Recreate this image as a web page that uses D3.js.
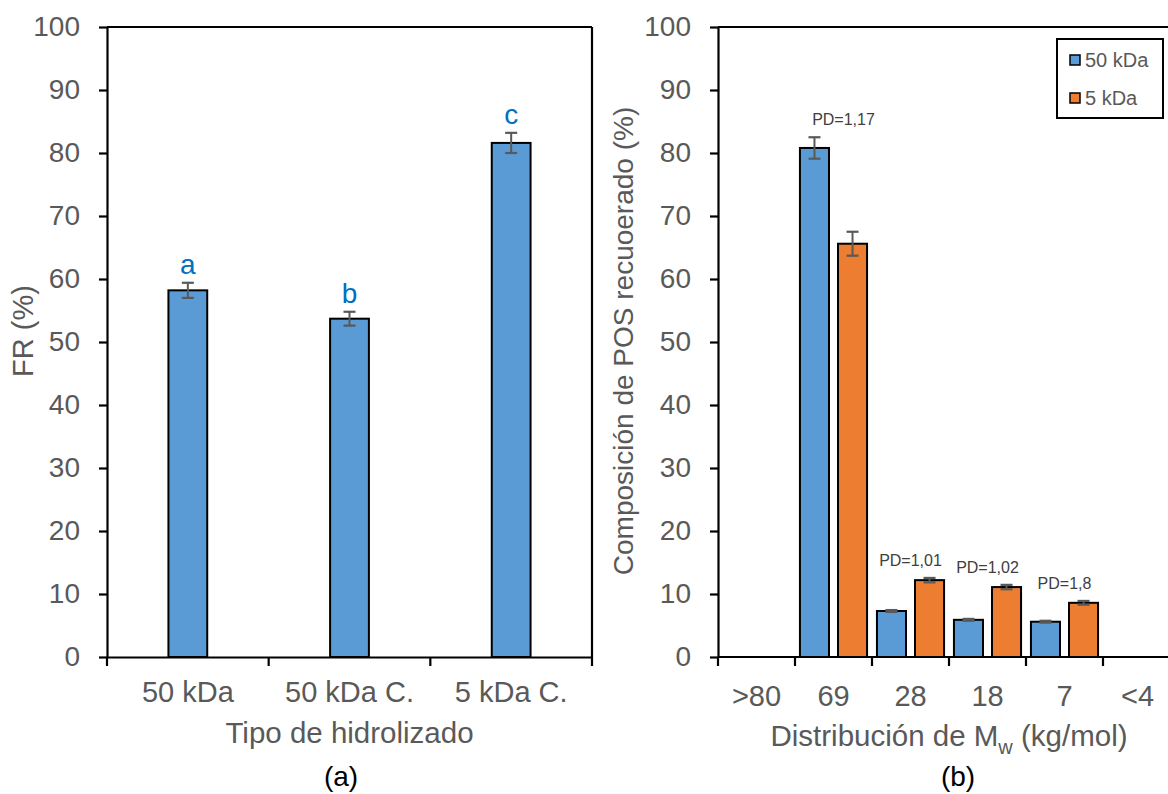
<!DOCTYPE html>
<html>
<head>
<meta charset="utf-8">
<script src="https://cdn.jsdelivr.net/npm/d3@7"></script>
<style>
  body { margin: 0; background: #fff; }
  svg { display: block; font-family: "Liberation Sans", Arial, sans-serif; }
</style>
</head>
<body>
<svg class="chart_svg" width="1168" height="794"></svg>
<script>
// panel (a)
var typeCats = ["50 kDa", "50 kDa C.", "5 kDa C."];
var frValues = [58.2, 53.7, 81.6];
var frErrors = [1.2, 1.1, 1.6];
var frLetters = ["a", "b", "c"];

// panel (b)
var mwCats = [">80", "69", "28", "18", "7", "<4"];
var seriesNames = ["50 kDa", "5 kDa"];
var pos50 = [null, 80.8, 7.3, 5.9, 5.6, null];
var pos50Err = [null, 1.7, 0.15, 0.15, 0.15, null];
var pos5 = [null, 65.6, 12.2, 11.1, 8.6, null];
var pos5Err = [null, 1.9, 0.35, 0.35, 0.3, null];
var pdCats = ["69", "28", "18", "7"];
var pdTexts = ["PD=1,17", "PD=1,01", "PD=1,02", "PD=1,8"];

var yTicks = d3.range(0, 101, 10);
var seriesColors = ["#5B9BD5", "#ED7D31"];
var textGrey = "#595959";

var svg = d3.select(".chart_svg");

var yScale = d3.scaleLinear().domain([0, 100]).range([657, 27]);

function styleAxis(g) {
    g.selectAll("path").attr("stroke", "#000").attr("stroke-width", 2.2);
    g.selectAll("line").attr("stroke", "#000").attr("stroke-width", 2.2);
    g.selectAll("text").attr("fill", textGrey).style("font-size", "28px");
}

function drawErr(g, cx, v, e) {
    var hw = 6;
    g.append("line")
        .attr("x1", cx).attr("x2", cx)
        .attr("y1", yScale(v + e)).attr("y2", yScale(v - e))
        .attr("stroke", textGrey).attr("stroke-width", 2);
    [v + e, v - e].forEach(function (d) {
        g.append("line")
            .attr("x1", cx - hw).attr("x2", cx + hw)
            .attr("y1", yScale(d)).attr("y2", yScale(d))
            .attr("stroke", textGrey).attr("stroke-width", 2.2);
    });
}

/* ---------- (a) ---------- */
var xA = d3.scaleBand().domain(typeCats).range([107, 592]).padding(0);
var gA = svg.append("g");

// box top & right
gA.append("line").attr("x1", 107).attr("x2", 592).attr("y1", 27).attr("y2", 27)
    .attr("stroke", "#000").attr("stroke-width", 2.2);
gA.append("line").attr("x1", 592).attr("x2", 592).attr("y1", 27).attr("y2", 657)
    .attr("stroke", "#000").attr("stroke-width", 2.2);

var barWA = xA.bandwidth() * 0.24;
typeCats.forEach(function (c, i) {
    var cx = xA(c) + xA.bandwidth() / 2;
    gA.append("rect")
        .attr("x", cx - barWA / 2)
        .attr("y", yScale(frValues[i]))
        .attr("width", barWA)
        .attr("height", yScale(0) - yScale(frValues[i]))
        .attr("fill", seriesColors[0])
        .attr("stroke", "#000").attr("stroke-width", 2);
    drawErr(gA, cx, frValues[i], frErrors[i]);
    gA.append("text")
        .text(frLetters[i])
        .attr("x", cx)
        .attr("y", yScale(frValues[i] + frErrors[i]) - 9)
        .attr("text-anchor", "middle")
        .attr("fill", "#0070C0")
        .style("font-size", "28px");
});

var yAxA = gA.append("g")
    .attr("transform", "translate(107,0)")
    .call(d3.axisLeft(yScale).tickValues(yTicks).tickSize(8).tickPadding(19).tickSizeOuter(0));
styleAxis(yAxA);

var xAxA = gA.append("g")
    .attr("transform", "translate(0,657)")
    .call(d3.axisBottom(xA).tickSize(0).tickPadding(24));
styleAxis(xAxA);
xAxA.selectAll("text").style("font-size", "29px");
// ticks between categories
gA.selectAll(".xa_tick")
    .data(typeCats.concat(["end"]))
    .enter().append("line")
    .attr("x1", function (d, i) { return 107 + i * xA.bandwidth(); })
    .attr("x2", function (d, i) { return 107 + i * xA.bandwidth(); })
    .attr("y1", 657).attr("y2", 666)
    .attr("stroke", "#000").attr("stroke-width", 2.2);

gA.append("text")
    .text("FR (%)")
    .attr("transform", "translate(23,331) rotate(-90)")
    .attr("text-anchor", "middle")
    .attr("dy", ".35em")
    .attr("fill", textGrey)
    .style("font-size", "29px");

gA.append("text")
    .text("Tipo de hidrolizado")
    .attr("x", 349.5).attr("y", 743)
    .attr("text-anchor", "middle")
    .attr("fill", textGrey)
    .style("font-size", "29.5px");

gA.append("text")
    .text("(a)")
    .attr("x", 341).attr("y", 786)
    .attr("text-anchor", "middle")
    .attr("fill", "#000")
    .style("font-size", "28px");

/* ---------- (b) ---------- */
var xB = d3.scaleBand().domain(mwCats).range([718, 718 + 77 * 6]).padding(0);
var xSub = d3.scaleBand().domain(seriesNames).range([0, xB.bandwidth()])
    .paddingInner(0.237).paddingOuter(0.13);
var gB = svg.append("g");

gB.append("line").attr("x1", 718).attr("x2", 1168).attr("y1", 27).attr("y2", 27)
    .attr("stroke", "#000").attr("stroke-width", 2.2);

var seriesVals = [pos50, pos5];
var seriesErrs = [pos50Err, pos5Err];
seriesNames.forEach(function (s, k) {
    mwCats.forEach(function (c, i) {
        var v = seriesVals[k][i];
        if (v === null) return;
        var x0 = xB(c) + xSub(s);
        gB.append("rect")
            .attr("x", x0)
            .attr("y", yScale(v))
            .attr("width", xSub.bandwidth())
            .attr("height", yScale(0) - yScale(v))
            .attr("fill", seriesColors[k])
            .attr("stroke", "#000").attr("stroke-width", 2);
        drawErr(gB, x0 + xSub.bandwidth() / 2, v, seriesErrs[k][i]);
    });
});

pdCats.forEach(function (c, j) {
    var i = mwCats.indexOf(c);
    var top = Math.max(pos50[i] + pos50Err[i], pos5[i] + pos5Err[i]);
    gB.append("text")
        .text(pdTexts[j])
        .attr("x", xB(c) + xB.bandwidth() / 2 + (j === 0 ? 10 : 0))
        .attr("y", yScale(top) - 12)
        .attr("text-anchor", "middle")
        .attr("fill", "#404040")
        .style("font-size", "16px");
});

var yAxB = gB.append("g")
    .attr("transform", "translate(718,0)")
    .call(d3.axisLeft(yScale).tickValues(yTicks).tickSize(8).tickPadding(19).tickSizeOuter(0));
styleAxis(yAxB);

var xAxB = gB.append("g")
    .attr("transform", "translate(0,657)")
    .call(d3.axisBottom(xB).tickSize(0).tickPadding(28).tickSizeOuter(0));
styleAxis(xAxB);
xAxB.select(".domain").attr("d", "M718,0H1168");
xAxB.selectAll("text").style("font-size", "29px")
    .attr("dx", function (d) { return d === "<4" ? -4 : 0; });
gB.selectAll(".xb_tick")
    .data(mwCats)
    .enter().append("line")
    .attr("x1", function (d) { return xB(d); })
    .attr("x2", function (d) { return xB(d); })
    .attr("y1", 657).attr("y2", 666)
    .attr("stroke", "#000").attr("stroke-width", 2.2);

gB.append("text")
    .text("Composición de POS recuoerado (%)")
    .attr("transform", "translate(623,341) rotate(-90)")
    .attr("text-anchor", "middle")
    .attr("dy", ".35em")
    .attr("fill", textGrey)
    .style("font-size", "28px");

var xTitle = gB.append("text")
    .attr("x", 949).attr("y", 746)
    .attr("text-anchor", "middle")
    .attr("fill", textGrey)
    .style("font-size", "29.5px");
xTitle.append("tspan").text("Distribución de M");
xTitle.append("tspan").text("w").attr("dy", 8).style("font-size", "20px");
xTitle.append("tspan").text(" (kg/mol)").attr("dy", -8);

gB.append("text")
    .text("(b)")
    .attr("x", 958).attr("y", 786)
    .attr("text-anchor", "middle")
    .attr("fill", "#000")
    .style("font-size", "28px");

// legend
var leg = gB.append("g");
leg.append("rect")
    .attr("x", 1057).attr("y", 39).attr("width", 106).attr("height", 79)
    .attr("fill", "#fff").attr("stroke", "#000").attr("stroke-width", 2);
seriesNames.forEach(function (s, k) {
    var cy = 60 + k * 38;
    leg.append("rect")
        .attr("x", 1070).attr("y", cy - 5).attr("width", 10).attr("height", 10)
        .attr("fill", seriesColors[k]).attr("stroke", "#000").attr("stroke-width", 1.5);
    leg.append("text")
        .text(s)
        .attr("x", 1085).attr("y", cy)
        .attr("dy", ".35em")
        .attr("fill", textGrey)
        .style("font-size", "20px");
});
</script>
</body>
</html>
